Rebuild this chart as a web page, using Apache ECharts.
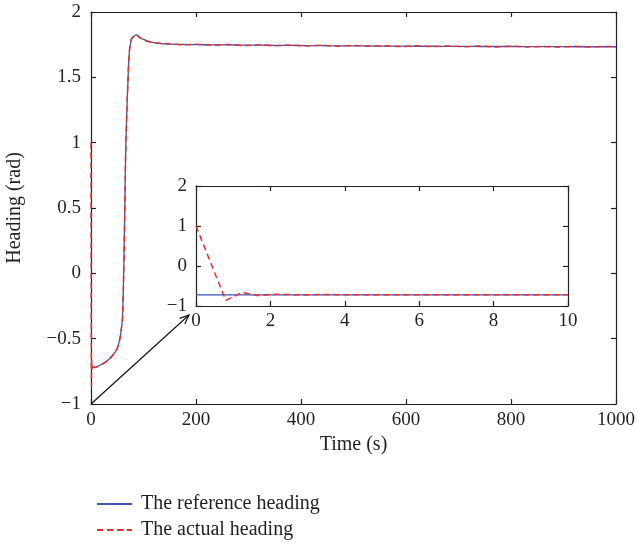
<!DOCTYPE html>
<html>
<head>
<meta charset="utf-8">
<script src="https://cdn.jsdelivr.net/npm/echarts@6/dist/echarts.min.js"></script>
<style>
  html, body { margin: 0; padding: 0; background: #fff; }
  #chart { width: 637px; height: 546px; }
</style>
</head>
<body>
<div id="chart"></div>
<script>
// main plot (0-1000 s)
const mainTime = [0, 10, 23, 35, 42, 48, 52, 55, 58, 60, 62, 63, 65, 66, 68, 70, 73, 77, 82, 87, 92, 100, 110, 128, 150, 175,
  200, 230, 260, 290, 320, 350, 380, 410, 440, 470, 500, 530, 560, 590, 620, 650, 680, 710, 740, 770, 800, 830, 860, 890, 920, 950, 980, 1000];
const refHeading = [-0.72, -0.715, -0.69, -0.655, -0.625, -0.59, -0.55, -0.5, -0.42, -0.34, -0.05, 0.16, 0.65, 0.92, 1.2, 1.43, 1.69, 1.79, 1.815, 1.825, 1.81, 1.79, 1.775, 1.76, 1.754, 1.752,
  1.75, 1.749, 1.748, 1.747, 1.746, 1.745, 1.744, 1.743, 1.742, 1.741, 1.74, 1.74, 1.739, 1.739, 1.738, 1.738, 1.737, 1.737, 1.736, 1.736, 1.736, 1.735, 1.735, 1.735, 1.734, 1.734, 1.734, 1.734];
const actTime = [23, 35, 42, 48, 52, 55, 58, 60, 62, 63, 65, 66, 68, 70, 73, 77, 82, 87, 92, 100, 110, 128, 150, 175,
  200, 230, 260, 290, 320, 350, 380, 410, 440, 470, 500, 530, 560, 590, 620, 650, 680, 710, 740, 770, 800, 830, 860, 890, 920, 950, 980, 1000];
const actHeading = [-0.692, -0.655, -0.623, -0.592, -0.548, -0.502, -0.418, -0.345, -0.04, 0.17, 0.66, 0.93, 1.21, 1.44, 1.7, 1.795, 1.818, 1.823, 1.806, 1.787, 1.772, 1.762, 1.756, 1.748,
  1.754, 1.745, 1.751, 1.743, 1.749, 1.741, 1.747, 1.74, 1.746, 1.738, 1.744, 1.737, 1.742, 1.736, 1.741, 1.735, 1.74, 1.734, 1.739, 1.733, 1.738, 1.733, 1.737, 1.732, 1.737, 1.733, 1.736, 1.734];

// inset (0-10 s)
const insetTime = [0, 0.8, 1.24, 1.64, 2.2, 2.8, 3.5, 4.2, 5, 5.8, 6.6, 7.4, 8.2, 9, 10];
const insetRef = [-0.72, -0.72, -0.72, -0.72, -0.72, -0.72, -0.72, -0.72, -0.72, -0.72, -0.72, -0.72, -0.72, -0.72, -0.72];
const insetAct = [1.0, -0.86, -0.66, -0.74, -0.705, -0.725, -0.712, -0.722, -0.716, -0.721, -0.717, -0.72, -0.718, -0.72, -0.719];

const legendNames = ['The reference heading', 'The actual heading'];

const blue = '#3a56b8';
const red = '#ef2b2b';
const ink = '#231f20';
const serif = '"Liberation Serif", "DejaVu Serif", serif';
const fs = 19;      // tick labels
const fsName = 20;  // axis names and legend

const zip = (xs, ys) => xs.map((x, i) => [x, ys[i]]);
const minus = v => String(v).replace('-', '\u2212');

const actMain = zip(insetTime, insetAct).concat(zip(actTime, actHeading));

const chart = echarts.init(document.getElementById('chart'));

function axisPair(gridIndex, min, max, interval, showLabel, position, extra) {
  return Object.assign({
    gridIndex: gridIndex,
    type: 'value',
    min: min,
    max: max,
    interval: interval,
    position: position,
    splitLine: { show: false },
    axisLine: { show: true, onZero: false, lineStyle: { color: ink, width: 1.2 } },
    axisTick: { show: true, inside: true, length: 5, lineStyle: { color: ink, width: 1.2 } },
    axisLabel: { show: showLabel, color: ink, fontFamily: serif, fontSize: fs, formatter: minus }
  }, extra || {});
}

function legendRow(name, top) {
  return {
    orient: 'horizontal',
    left: 91,
    top: top,
    itemWidth: 35,
    itemHeight: 14,
    data: [name],
    itemStyle: { opacity: 0 },
    textStyle: { color: ink, fontFamily: serif, fontSize: fsName, padding: [0, 0, 0, 4] }
  };
}

const option = {
  backgroundColor: '#fff',
  animation: false,
  grid: [
    { left: 91, right: 21, top: 12, bottom: 142, outerBoundsMode: 'none' },
    { left: 196, right: 69, top: 186, bottom: 240, outerBoundsMode: 'none', show: true, backgroundColor: '#fff', borderWidth: 0, z: 5 }
  ],
  xAxis: [
    axisPair(0, 0, 1000, 200, true, 'bottom', {
      name: 'Time (s)', nameLocation: 'middle', nameGap: 31,
      nameTextStyle: { color: ink, fontFamily: serif, fontSize: fsName },
      axisLabel: { show: true, color: ink, fontFamily: serif, fontSize: fs, margin: 7, formatter: v => String(v) }
    }),
    axisPair(0, 0, 1000, 200, false, 'top'),
    axisPair(1, 0, 10, 2, true, 'bottom', { z: 6, axisLabel: { show: true, color: ink, fontFamily: serif, fontSize: fs, margin: 6, formatter: v => String(v) } }),
    axisPair(1, 0, 10, 2, false, 'top', { z: 6 })
  ],
  yAxis: [
    axisPair(0, -1, 2, 0.5, true, 'left', {
      name: 'Heading (rad)', nameLocation: 'middle', nameGap: 66,
      nameTextStyle: { color: ink, fontFamily: serif, fontSize: fsName },
      axisLabel: { show: true, color: ink, fontFamily: serif, fontSize: fs, margin: 10, formatter: minus }
    }),
    axisPair(0, -1, 2, 0.5, false, 'right'),
    axisPair(1, -1, 2, 1, true, 'left', { z: 6, axisLabel: { show: true, color: ink, fontFamily: serif, fontSize: fs, margin: 9, formatter: minus } }),
    axisPair(1, -1, 2, 1, false, 'right', { z: 6 })
  ],
  legend: [legendRow(legendNames[0], 489), legendRow(legendNames[1], 515)],
  series: [
    {
      name: legendNames[0], type: 'line', xAxisIndex: 0, yAxisIndex: 0,
      data: zip(mainTime, refHeading), symbol: 'none', smooth: 0.3,
      lineStyle: { color: blue, width: 1.3 }, itemStyle: { color: blue }
    },
    {
      name: legendNames[1], type: 'line', xAxisIndex: 0, yAxisIndex: 0,
      data: actMain, symbol: 'none', smooth: 0.3,
      lineStyle: { color: red, width: 1.5, type: [6, 4] }, itemStyle: { color: red }
    },
    {
      name: legendNames[0], type: 'line', xAxisIndex: 2, yAxisIndex: 2, z: 7,
      data: zip(insetTime, insetRef), symbol: 'none',
      lineStyle: { color: blue, width: 1.3 }, itemStyle: { color: blue }
    },
    {
      name: legendNames[1], type: 'line', xAxisIndex: 2, yAxisIndex: 2, z: 7,
      data: zip(insetTime, insetAct), symbol: 'none',
      lineStyle: { color: red, width: 1.5, type: [6, 4] }, itemStyle: { color: red }
    }
  ]
};

chart.setOption(option);

// zoom arrow from main origin to the inset corner
const p0 = chart.convertToPixel({ xAxisIndex: 0, yAxisIndex: 0 }, [0, -1]);
const corner = chart.convertToPixel({ xAxisIndex: 2, yAxisIndex: 2 }, [0, -1]);
const tip = [corner[0] - 7, corner[1] + 9];
const ang = Math.atan2(tip[1] - p0[1], tip[0] - p0[0]);
const headLen = 10, spread = 0.4;
const h1 = [tip[0] - headLen * Math.cos(ang - spread), tip[1] - headLen * Math.sin(ang - spread)];
const h2 = [tip[0] - headLen * Math.cos(ang + spread), tip[1] - headLen * Math.sin(ang + spread)];

chart.setOption({
  graphic: [
    { type: 'line', z: 10, shape: { x1: p0[0], y1: p0[1], x2: tip[0], y2: tip[1] }, style: { stroke: '#111', lineWidth: 1.2 } },
    { type: 'polyline', z: 10, shape: { points: [h1, tip, h2] }, style: { stroke: '#111', lineWidth: 1.2, fill: null } }
  ]
});
</script>
</body>
</html>
